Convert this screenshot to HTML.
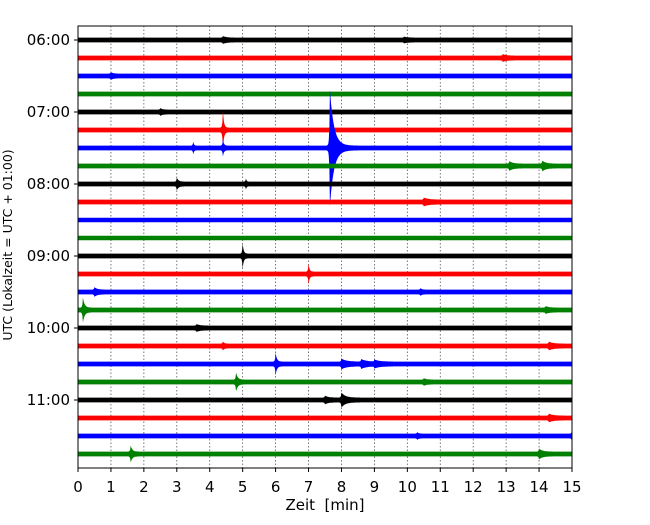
<!DOCTYPE html>
<html><head><meta charset="utf-8"><style>
body{margin:0;background:#fff}
svg text{font-family:"DejaVu Sans","Liberation Sans",sans-serif;fill:#000}
</style></head><body>
<svg id="c" width="650" height="520" xmlns="http://www.w3.org/2000/svg"></svg>
<script>
const traceLabels=["06:00","","","","07:00","","","","08:00","","","","09:00","","","","10:00","","","","11:00","","",""];
const xTicks=[0,1,2,3,4,5,6,7,8,9,10,11,12,13,14,15];
const traceColors=["#000000","#ff0000","#0000ff","#008000"];
const baseNoise=[2.4,2.4,2.4,2.4,2.4,2.4,2.4,2.4,2.4,2.4,2.2,2.2,2.4,2.4,2.4,2.4,2.4,2.4,2.4,2.4,2.4,2.4,2.4,2.4];
// events: trace index, minute, amplitude (px half-height), decay (min)
const evTrace=[0,0,1,2,4,5,6,6,6,7,7,8,8,9,12,13,14,14,15,15,16,17,17,18,18,18,18,19,19,20,20,21,22,22,23,23];
const evMin=[4.4,9.9,12.9,1.0,2.5,4.4,7.65,3.5,4.4,13.1,14.1,3.0,5.1,10.5,5.0,7.0,0.5,10.4,0.15,14.2,3.6,4.4,14.3,6.0,8.0,8.6,9.0,4.8,10.5,8.0,7.5,14.3,15.0,10.3,1.6,14.0];
const evAmp=[1.5,1,1.5,1.5,1.5,17,56,4,6,2.5,3,4,3,2,10,8,2.5,1.5,10,1.5,1.5,2,2,9,3,2.5,2,7,1.5,5,2,2,4,1.5,6,3];
const evDecay=[0.1,0.1,0.1,0.06,0.06,0.03,0.12,0.02,0.03,0.1,0.1,0.05,0.02,0.15,0.03,0.03,0.08,0.04,0.05,0.1,0.1,0.04,0.12,0.04,0.15,0.15,0.15,0.05,0.08,0.12,0.1,0.12,0.1,0.04,0.05,0.1];

const svg=document.getElementById('c');
const NS="http://www.w3.org/2000/svg";
const L=78,R=572,T=26,B=468,Y0=40,DY=18;
const xs=m=>L+(R-L)*m/15;
const ys=i=>Y0+i*DY;
function mk(tag,attrs,parent){const e=document.createElementNS(NS,tag);for(const k in attrs)e.setAttribute(k,attrs[k]);(parent||svg).appendChild(e);return e;}

xTicks.forEach(t=>{
  if(t>0&&t<15){const g=mk('line',{x1:xs(t),x2:xs(t),y1:T,y2:B,stroke:'#555','stroke-width':0.8,'stroke-dasharray':'1.5,2'});
  
  }
});
for(let i=0;i<traceLabels.length;i++){
  const top=[],bot=[];
  for(let s=0;s<=900;s++){
    const m=s*15/900;
    let up=baseNoise[i],dn=baseNoise[i];
    for(let k=0;k<evTrace.length;k++){
      if(evTrace[k]!==i)continue;
      const d=m-evMin[k];
      let a=d>=0?evAmp[k]*Math.exp(-d/evDecay[k]):evAmp[k]*Math.exp(d/0.015);
      up+=a;dn+=a;
    }
    top.push(xs(m).toFixed(1)+','+(ys(i)-up).toFixed(1));
    bot.unshift(xs(m).toFixed(1)+','+(ys(i)+dn).toFixed(1));
  }
  const p=mk('polygon',{points:top.concat(bot).join(' '),fill:traceColors[i%4]});
  
  
}
const fr=mk('rect',{x:L,y:T,width:R-L,height:B-T,fill:'none',stroke:'#000','stroke-width':1});


xTicks.forEach(t=>{
  mk('line',{x1:xs(t),x2:xs(t),y1:B,y2:B+4,stroke:'#000'});
  const tx=mk('text',{x:xs(t),y:B+24,'text-anchor':'middle','font-size':15});
  tx.textContent=t;
  
  
});
traceLabels.forEach((lb,i)=>{
  if(!lb)return;
  mk('line',{x1:L-4,x2:L,y1:ys(i),y2:ys(i),stroke:'#000'});
  const tx=mk('text',{x:L-8,y:ys(i)+5,'text-anchor':'end','font-size':15});
  tx.textContent=lb;
  
  
});
const xl=mk('text',{x:(L+R)/2,y:510,'text-anchor':'middle','font-size':15});
xl.textContent='Zeit  [min]';xl.style.whiteSpace='pre';


const yl=mk('text',{x:0,y:0,'text-anchor':'middle','font-size':12.5,transform:'translate(12,245) rotate(-90)'});
yl.textContent='UTC (Lokalzeit = UTC + 01:00)';


</script>
</body></html>
